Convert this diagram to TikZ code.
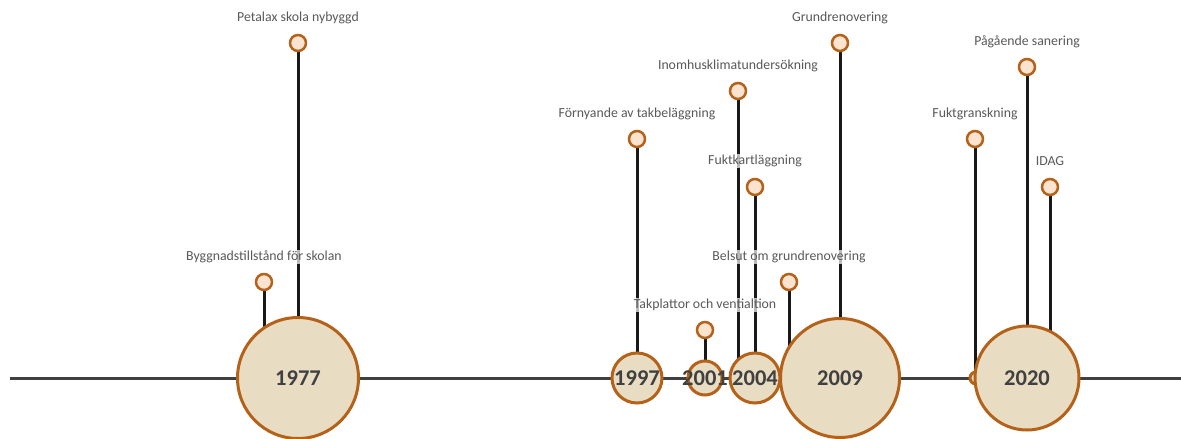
\documentclass[tikz,border=0pt]{standalone}
\usepackage{fontspec}
\setmainfont{Carlito}
\usetikzlibrary{backgrounds}
\definecolor{ringc}{HTML}{B4621A}
\definecolor{yearfill}{HTML}{E8DCC3}
\definecolor{markfill}{HTML}{FBE3D0}
\definecolor{yeartext}{HTML}{404040}
\definecolor{lbltext}{HTML}{595959}
\definecolor{axisc}{HTML}{404040}
\begin{document}
\begin{tikzpicture}[x=1pt,y=-1pt,
  year/.style={circle, draw=ringc, fill=yearfill, line width=3pt, inner sep=0pt},
  yeartxt/.style={text=yeartext, inner sep=0pt, font=\fontsize{22.5}{22.5}\selectfont\bfseries},
  marker/.style={circle, draw=ringc, fill=markfill, line width=2.5pt, minimum size=16pt, inner sep=0pt},
  lbl/.style={fill=white, fill opacity=0.7, text opacity=1, text=lbltext, font=\fontsize{13.8}{15}\selectfont, inner sep=1pt},
  stem/.style={line width=3pt, black!90},
  axis/.style={line width=3pt, axisc}]
\useasboundingbox (0,0) rectangle (1181,439);
% year circles
\node[year, minimum size=121pt] (y1977) at (298,378) {};
\node[year, minimum size=50pt] (y1997) at (637,378) {};
\node[year, minimum size=34pt] (y2001) at (705,378) {};
\node[year, minimum size=50pt] (y2004) at (755,378) {};
\node[year, minimum size=12pt] (y2019) at (976,378) {};
\node[year, minimum size=119pt] (y2009) at (840,378) {};
\node[year, minimum size=104pt] (y2020) at (1027,378) {};
\node[yeartxt] (t1977) at (y1977) {1977};
\node[yeartxt] (t1997) at (y1997) {1997};
\node[yeartxt] (t2001) at (y2001) {2001};
\node[yeartxt] (t2004) at (y2004) {2004};
\node[yeartxt] (t2009) at (y2009) {2009};
\node[yeartxt] (t2020) at (y2020) {2020};
% markers
\node[marker] (m1) at (264,282) {};
\node[marker] (m2) at (298,43) {};
\node[marker] (m3) at (637,139) {};
\node[marker] (m4) at (738,91) {};
\node[marker] (m5) at (755,187) {};
\node[marker] (m6) at (705,330) {};
\node[marker] (m7) at (789,282) {};
\node[marker] (m8) at (840,43) {};
\node[marker] (m9) at (975,139) {};
\node[marker] (m10) at (1027,67) {};
\node[marker] (m11) at (1050,187) {};
% axis and stems behind
\begin{scope}[on background layer]
\coordinate (axL) at (10,378);
\coordinate (axR) at (1181,378);
\draw[axis] (axL) -- (axR);
\draw[stem] (m1.south) -- (m1 |- y1977.center);
\draw[stem] (m2.south) -- (y1977.center);
\draw[stem] (m3.south) -- (y1997.center);
\draw[stem] (m4.south) -- (m4 |- y2004.center);
\draw[stem] (m5.south) -- (y2004.center);
\draw[stem] (m6.south) -- (y2001.center);
\draw[stem] (m7.south) -- (m7 |- y2009.center);
\draw[stem] (m8.south) -- (y2009.center);
\draw[stem] (m9.south) -- (m9 |- y2020.center);
\draw[stem] (m10.south) -- (y2020.center);
\draw[stem] (m11.south) -- (m11 |- y2020.center);
\end{scope}
% labels
\node[lbl] (l1) at (264,257) {Byggnadstillstånd för skolan};
\node[lbl] (l2) at (298,18) {Petalax skola nybyggd};
\node[lbl] (l3) at (637,114) {Förnyande av takbeläggning};
\node[lbl] (l4) at (738,66) {Inomhusklimatundersökning};
\node[lbl] (l5) at (755,161) {Fuktkartläggning};
\node[lbl] (l6) at (705,305) {Takplattor och ventialtion};
\node[lbl] (l7) at (789,257) {Belsut om grundrenovering};
\node[lbl] (l8) at (840,18) {Grundrenovering};
\node[lbl] (l9) at (975,114) {Fuktgranskning};
\node[lbl] (l10) at (1027,42) {Pågående sanering};
\node[lbl] (l11) at (1050,161) {IDAG};
\end{tikzpicture}
\end{document}
